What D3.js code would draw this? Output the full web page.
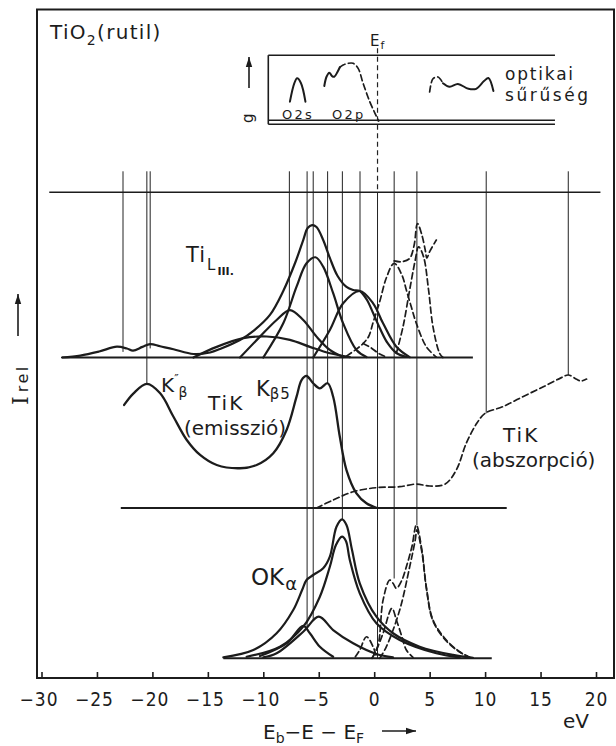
<!DOCTYPE html>
<html>
<head>
<meta charset="utf-8">
<script src="https://cdn.jsdelivr.net/npm/d3@7"></script>
<style>
  body { margin: 0; background: #fff; }
  svg { display: block; }
  text { font-family: "DejaVu Sans", sans-serif; fill: #1c1c1c; }
  .num { font-family: "Liberation Sans Narrow", "DejaVu Sans Condensed", sans-serif; }
</style>
</head>
<body>
<svg id="chart" width="616" height="746"></svg>
<script>
// ---- energy axis (eV, relative to the Fermi level) ----
const xTicks = [-30, -25, -20, -15, -10, -5, 0, 5, 10, 15, 20];
const fermiLevel = 0.3;

// ---- inset: density of states g(E) and optical density ----
const o2s = [[-7.6, 13.8], [-7.2, 27], [-6.95, 30.5], [-6.6, 27], [-6.2, 13.8]];
const o2pSolid = [[-4.5, 25], [-4.3, 31.6], [-4.05, 34.5], [-3.8, 32.1], [-3.6, 31.6], [-3.3, 35.2], [-3.1, 38.4]];
const o2pDashed = [[-3.1, 38.4], [-2.8, 40], [-2.35, 41.2], [-1.9, 41.2], [-1.45, 37.6], [-1.0, 26.9], [-0.4, 13.8], [0.07, 5.5], [0.4, 0]];
const opticalDashed = [[5.0, 20.7], [5.3, 30.2], [5.75, 31.4], [6.2, 27]];
const opticalSolid = [[6.2, 27], [6.8, 24.5], [7.55, 26.4], [8.5, 23], [9.2, 23], [9.9, 28.5], [10.3, 30.7], [10.75, 21.4]];

// ---- Ti L_III emission: envelope and components (solid), absorption (dashed) ----
const tiLTotal = [[-28.15, 0], [-26.5, 1.4], [-24.8, 4.3], [-23.2, 7.7], [-22.3, 6.4], [-21.75, 4.9], [-20.9, 7.6],
  [-20.2, 9.6], [-19.3, 8.0], [-18.1, 5.9], [-16.3, 2.5], [-14.8, 3.6], [-13.9, 6.1], [-12.1, 12.5], [-10.8, 19.6],
  [-9.4, 30.4], [-8.2, 47.5], [-7.1, 68.2], [-6.4, 83.9], [-6.0, 92.5], [-5.6, 94.6], [-5.2, 93.2], [-4.6, 83.9],
  [-4.0, 71.1], [-3.3, 58.2], [-2.5, 50.4], [-1.9, 48.2], [-1.3, 47.5], [-0.65, 41.1], [-0.1, 31.8], [0.5, 21.1],
  [1.2, 10.4], [2.0, 3.2], [2.9, 0.4]];
const tiLBroad = [[-16.3, 0], [-14.2, 7.6], [-11.8, 13.8], [-9.7, 15], [-7.6, 12.6], [-5.8, 7.6], [-4.0, 3.0], [-2.2, 0.3]];
const tiLComp1 = [[-12.1, 0], [-10.3, 14.9], [-8.8, 26.8], [-7.6, 33.9], [-6.4, 26.8], [-5.2, 14.9], [-4.0, 5.4], [-2.8, 0.3]];
const tiLComp2 = [[-10.0, 0], [-8.2, 24.4], [-7.0, 50.6], [-6.1, 67.3], [-5.3, 71.6], [-4.6, 64.9], [-3.7, 45.9], [-2.8, 24.4], [-1.6, 5.4], [-0.7, 0.3]];
const tiLComp3 = [[-5.5, 0], [-4.0, 19.6], [-2.8, 38.7], [-1.3, 47.5], [-0.1, 38.7], [0.8, 24.4], [2.0, 7.7], [3.2, 0.3]];
const tiLAbsA = [[-2.5, 1.0], [-1.6, 6], [-1.0, 10], [-0.5, 15], [-0.1, 25], [0.5, 40], [1.1, 57], [1.8, 67.3],
  [2.5, 58.9], [2.9, 48.2], [3.35, 36], [3.8, 24.4], [4.7, 7.7], [5.6, 0.3]];
const tiLAbsSmall = [[-1.0, 10], [-0.4, 7.5], [0.5, 2.5], [1.2, 0]];
const tiLAbsB = [[2.0, 3], [2.6, 22], [3.2, 48.4], [3.7, 69.5], [4.0, 79], [4.45, 72], [4.9, 48.4], [5.3, 22], [5.9, 3], [6.2, 0]];
const tiLAbsTotal = [[1.8, 69], [2.5, 68.4], [3.2, 70.8], [3.6, 80.2], [3.9, 95.7], [4.3, 87.5], [4.6, 76.8], [4.75, 71], [5.0, 75.6], [5.6, 83.9]];

// ---- Ti K emission (solid) and absorption (dashed) ----
const tiKEmission = [[-22.55, 73.6], [-21.7, 81.9], [-20.5, 88.6], [-19.3, 81.9], [-18.1, 65.2], [-16.9, 48.6],
  [-15.7, 37.9], [-14.2, 30.7], [-12.1, 28.4], [-10.6, 30.7], [-9.1, 39.1], [-7.9, 55.7], [-7.0, 79.5],
  [-6.55, 91.4], [-6.1, 94.3], [-5.5, 89.1], [-4.9, 85.5], [-4.2, 89.1], [-3.7, 79.5], [-3.1, 50.9],
  [-2.5, 27.1], [-1.6, 10.5], [-0.7, 3.4], [0.2, 0.2]];
const tiKAbsorption = [[-5.2, 0], [-3.7, 5.7], [-1.9, 11.6], [0.2, 14.5], [2.3, 15.2], [3.8, 17.1], [5.0, 15.7],
  [6.4, 17.1], [7.4, 27.1], [8.3, 46.2], [9.25, 60.5], [10.0, 67.6], [11.6, 72.4], [13.4, 79.5], [15.25, 86.6],
  [16.75, 92.6], [17.5, 95], [18.25, 91.9], [18.65, 90.7], [19.15, 92.1]];

// ---- O K-alpha emission: envelope and components (solid), absorption (dashed) ----
const oKTotal = [[-13.6, 0.7], [-10.9, 5.9], [-8.8, 17.9], [-7.3, 34.5], [-6.5, 48.8], [-6.1, 55.9], [-5.5, 59.5],
  [-4.6, 64.3], [-4.0, 72.6], [-3.4, 94], [-2.9, 99.3], [-2.5, 95.2], [-2.0, 77.4], [-1.3, 53.6], [0.2, 29.7],
  [1.7, 17.9], [4.1, 8.3], [7.1, 2.4], [8.9, 0.4]];
const oKMain = [[-11.5, 1.1], [-8.5, 8.3], [-6.4, 22.6], [-4.9, 44], [-4.0, 65.4], [-3.45, 80.9], [-2.9, 86.9],
  [-2.55, 83.8], [-2.2, 70.2], [-1.3, 46.4], [0.2, 25], [2.3, 13.1], [5.6, 3.6], [7.7, 0.7]];
const oKComp1 = [[-10.3, 1.6], [-7.9, 10.7], [-6.4, 23.1], [-5.8, 17.9], [-4.9, 8.3], [-3.7, 1.1]];
const oKComp2 = [[-10.0, 0.7], [-8.8, 3.6], [-6.4, 19], [-5.0, 29.7], [-3.7, 20.2], [-1.9, 10.7], [0.2, 3.1], [1.7, 0.7]];
const oKAbsSmall = [[-1.7, 1.1], [-1.3, 5.9], [-0.7, 15.4], [-0.1, 8.3], [0.2, 1.1]];
const oKAbsComp = [[-0.2, 0], [0.2, 5.9], [0.8, 17.9], [1.6, 35.7], [2.0, 27.4], [2.5, 15.4], [2.9, 5.9], [3.5, 0.7]];
const oKAbsBig = [[0.5, 0], [1.1, 8.3], [2.3, 34.5], [3.2, 65.4], [3.7, 84.5], [3.85, 91.7], [4.3, 75.9],
  [4.7, 50.2], [5.3, 26.6], [6.5, 12.4], [7.7, 4.5], [8.6, 0.6]];
const oKAbsTotal = [[-0.2, 0], [0.35, 9.5], [0.8, 41.6], [1.4, 55.9], [1.7, 53.6], [2.0, 50], [2.5, 55.9],
  [2.9, 65.4], [3.4, 79.7], [3.8, 95.2], [4.3, 77.4], [4.7, 51.1], [5.3, 27.4], [6.5, 13.1], [7.7, 4.7], [8.6, 0.7]];

// ---- energy levels marked across the spectra: energy, spectrum where the marker ends, intensity there ----
const levelLines = [
  { e: -22.65, end: "L", v: 4 },
  { e: -20.5, end: "K", v: 88.6 },
  { e: -20.2, end: "L", v: 6.5 },
  { e: -7.65, end: "L", v: 34 },
  { e: -6.05, end: "O", v: 21 },
  { e: -5.5, end: "O", v: 27 },
  { e: -4.2, end: "K", v: 89.1 },
  { e: -2.87, end: "O", v: 99.3 },
  { e: -1.28, end: "L", v: 48 },
  { e: 1.8, end: "O", v: 57 },
  { e: 3.85, end: "O", v: 95 },
  { e: 10.1, end: "K", v: 67.6 },
  { e: 17.5, end: "K", v: 95 }
];

// energy extent of each spectrum's zero line
const baseSpans = { L: [-28.15, 8.9], K: [-22.85, 11.95], O: [-13.6, 10.6], top: [-29.3, 20.4], inset: [-9.55, 16.3] };

// ---------------------------------------------------------------------------
const svg = d3.select("#chart");
const ink = "#1c1c1c";

const x = d3.scaleLinear().domain([-30, 20]).range([41.5, 596]);
const panelScale = base => d3.scaleLinear().domain([0, 100]).range([base, base - 140]);
const yI = panelScale(121), yL = panelScale(357.5), yK = panelScale(508), yO = panelScale(658.3);
const panels = { L: yL, K: yK, O: yO };

// frame and energy axis
svg.append("rect").attr("x", 37).attr("y", 9.5).attr("width", 577).attr("height", 668.5)
  .attr("fill", "none").attr("stroke", ink).attr("stroke-width", 2);

const axis = svg.append("g").attr("transform", "translate(0,678)")
  .call(d3.axisBottom(x).tickValues(xTicks).tickSizeInner(-6).tickSizeOuter(0).tickPadding(15)
    .tickFormat(d3.format("d")));
axis.select(".domain").remove();
axis.attr("font-family", null).attr("font-size", null);
axis.selectAll(".tick line").attr("stroke", ink).attr("stroke-width", 1.6);
axis.selectAll(".tick text").attr("class", "num").attr("font-size", 19).attr("fill", ink)
  .attr("letter-spacing", 1).attr("dx", d => d < 0 ? -3 : 0);

// energy-level markers
const thin = svg.append("g").attr("stroke", "#222").attr("stroke-width", 1);
levelLines.forEach(l => {
  thin.append("line").attr("x1", x(l.e)).attr("x2", x(l.e))
    .attr("y1", yL(133)).attr("y2", panels[l.end](l.v));
});
// Fermi level: dashed through the inset, thin below
thin.append("line").attr("x1", x(fermiLevel)).attr("x2", x(fermiLevel))
  .attr("y1", yI(52)).attr("y2", yL(118)).attr("stroke-dasharray", "5,3.5").attr("stroke-width", 1.2);
thin.append("line").attr("x1", x(fermiLevel)).attr("x2", x(fermiLevel))
  .attr("y1", yL(118)).attr("y2", yO(0));

// zero lines of the spectra
const hl = svg.append("g").attr("stroke", ink);
hl.append("line").attr("x1", x(baseSpans.top[0])).attr("x2", x(baseSpans.top[1]))
  .attr("y1", yL(118)).attr("y2", yL(118)).attr("stroke-width", 1.5);
[["L", yL], ["K", yK], ["O", yO]].forEach(([k, ys]) => {
  hl.append("line").attr("x1", x(baseSpans[k][0])).attr("x2", x(baseSpans[k][1]))
    .attr("y1", ys(0)).attr("y2", ys(0)).attr("stroke-width", 2);
});

// inset frame
const ins = svg.append("g").attr("stroke", ink).attr("stroke-width", 1.6);
ins.append("line").attr("x1", x(baseSpans.inset[0])).attr("x2", x(baseSpans.inset[1]))
  .attr("y1", yI(47)).attr("y2", yI(47));
ins.append("line").attr("x1", x(baseSpans.inset[0])).attr("x2", x(baseSpans.inset[1]))
  .attr("y1", yI(0.5)).attr("y2", yI(0.5));
ins.append("line").attr("x1", x(baseSpans.inset[0])).attr("x2", x(baseSpans.inset[1]))
  .attr("y1", yI(-2.3)).attr("y2", yI(-2.3));
ins.append("line").attr("x1", x(baseSpans.inset[0])).attr("x2", x(baseSpans.inset[0]))
  .attr("y1", yI(47)).attr("y2", yI(-2.3));

// curves
function curve(data, ys, dashed, width) {
  const gen = d3.line().x(d => x(d[0])).y(d => ys(d[1])).curve(d3.curveCatmullRom.alpha(0.5));
  svg.append("path").attr("d", gen(data)).attr("fill", "none").attr("stroke", ink)
    .attr("stroke-width", width || (dashed ? 1.7 : 2.2))
    .attr("stroke-linejoin", "round").attr("stroke-linecap", "round")
    .attr("stroke-dasharray", dashed ? "6,3.5" : null);
}

curve(o2s, yI, false, 2);
curve(o2pSolid, yI, false, 2);
curve(o2pDashed, yI, true, 1.7);
curve(opticalDashed, yI, true, 1.7);
curve(opticalSolid, yI, false, 2);

[tiLTotal, tiLBroad, tiLComp1, tiLComp2, tiLComp3].forEach(d => curve(d, yL, false));
[tiLAbsA, tiLAbsSmall, tiLAbsB, tiLAbsTotal].forEach(d => curve(d, yL, true));

curve(tiKEmission, yK, false, 2.3);
curve(tiKAbsorption, yK, true);

[oKTotal, oKMain, oKComp1, oKComp2].forEach(d => curve(d, yO, false));
[oKAbsSmall, oKAbsComp, oKAbsBig, oKAbsTotal].forEach(d => curve(d, yO, true));

// arrows
function arrow(x1, y1, x2, y2) {
  svg.append("line").attr("x1", x1).attr("y1", y1).attr("x2", x2).attr("y2", y2)
    .attr("stroke", ink).attr("stroke-width", 1.6);
  const a = Math.atan2(y2 - y1, x2 - x1), L = 10, W = 3.2;
  const p = [[x2, y2],
    [x2 - L * Math.cos(a) + W * Math.sin(a), y2 - L * Math.sin(a) - W * Math.cos(a)],
    [x2 - L * Math.cos(a) - W * Math.sin(a), y2 - L * Math.sin(a) + W * Math.cos(a)]];
  svg.append("path").attr("d", "M" + p.join("L") + "Z").attr("fill", ink);
}
arrow(249, 88, 249, 57);     // g(E) axis of the inset
arrow(18, 336, 18, 294);     // intensity
arrow(382, 731, 416, 731);   // energy

// ---- texts ----
const t = (s, px, py, size, extra) => {
  const el = svg.append("text").attr("x", px).attr("y", py).attr("font-size", size).text(s);
  if (extra) Object.entries(extra).forEach(([k, v]) => el.attr(k, v));
  return el;
};

const title = svg.append("text").attr("x", 50).attr("y", 39).attr("font-size", 20).attr("letter-spacing", 1.3);
title.append("tspan").text("TiO");
title.append("tspan").attr("font-size", 14).attr("dy", 6).text("2");
title.append("tspan").attr("dy", -6).text("(rutil)");

const ef = svg.append("text").attr("x", 370).attr("y", 46).attr("font-size", 15);
ef.append("tspan").text("E");
ef.append("tspan").attr("font-size", 11).attr("dx", 1).attr("dy", 3).text("f");

svg.append("text").attr("transform", "translate(253,123) rotate(-90)").attr("font-size", 15).text("g");
t("O2s", 282, 119, 13, { "letter-spacing": 2.2 });
t("O2p", 332, 119, 13, { "letter-spacing": 2.2 });
t("optikai", 505, 80, 17, { "letter-spacing": 1.8 });
t("sűrűség", 505, 101, 17, { "letter-spacing": 2.6 });

const tiL = svg.append("text").attr("x", 186).attr("y", 262).attr("font-size", 21);
tiL.append("tspan").attr("letter-spacing", 1).text("Ti");
tiL.append("tspan").attr("font-size", 15).attr("dx", 1).attr("dy", 8).text("L");
tiL.append("tspan").attr("font-size", 11).attr("font-weight", "bold").attr("dx", 2).attr("dy", 5).text("III.");

const kb2 = svg.append("text").attr("x", 161).attr("y", 392).attr("font-size", 20);
kb2.append("tspan").text("K");
kb2.append("tspan").attr("font-size", 12).attr("dy", -9).text("\u2033");
kb2.append("tspan").attr("font-size", 14).attr("dx", 0).attr("dy", 14).text("\u03b2");

const kb5 = svg.append("text").attr("x", 256).attr("y", 396).attr("font-size", 21);
kb5.append("tspan").text("K");
kb5.append("tspan").attr("font-size", 15).attr("dy", 3).attr("letter-spacing", 1).text("\u03b25");

t("TiK", 208, 410, 20, { "letter-spacing": 2 });
t("(emisszió)", 184, 435, 20);

t("TiK", 503, 442, 20, { "letter-spacing": 2 });
t("(abszorpció)", 472, 467, 20);

const ok = svg.append("text").attr("x", 251).attr("y", 585).attr("font-size", 23);
ok.append("tspan").text("OK");
ok.append("tspan").attr("font-size", 18).attr("dx", 1).attr("dy", 5).text("\u03b1");

// intensity label, reading upwards
const iy = svg.append("text").attr("transform", "translate(28,405) rotate(-90)").attr("font-size", 22);
iy.append("tspan").attr("font-family", "DejaVu Serif").text("I");
iy.append("tspan").attr("font-size", 16).attr("dx", 4).attr("letter-spacing", 2.5).text("rel");

// energy axis title
const xt = svg.append("text").attr("x", 263).attr("y", 739).attr("font-size", 20);
xt.append("tspan").text("E");
xt.append("tspan").attr("font-size", 14).attr("dy", 4).text("b");
xt.append("tspan").attr("dy", -4).text("\u2212E \u2212 E");
xt.append("tspan").attr("font-size", 14).attr("dy", 4).text("F");
t("eV", 563, 728, 20);
</script>
</body>
</html>
